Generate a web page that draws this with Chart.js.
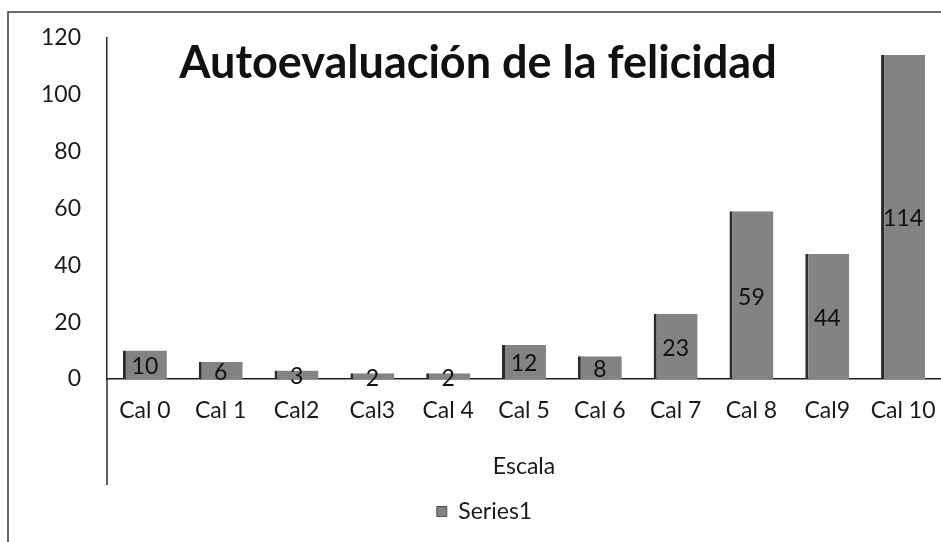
<!DOCTYPE html>
<html>
<head>
<meta charset="utf-8">
<script src="https://cdn.jsdelivr.net/npm/chart.js@4.4.1/dist/chart.umd.min.js"></script>
<style>
    html, body { margin: 0; padding: 0; background: #fff; }
    #wrap { width: 941px; height: 542px; position: relative; }
</style>
</head>
<body>
<div id="wrap"><canvas id="felicidadChart"></canvas></div>
<script>
// ==================== DATA ====================
const categories = ['Cal 0', 'Cal 1', 'Cal2', 'Cal3', 'Cal 4', 'Cal 5', 'Cal 6', 'Cal 7', 'Cal 8', 'Cal9', 'Cal 10'];
const series1 = [10, 6, 3, 2, 2, 12, 8, 23, 59, 44, 114];
const yTicks = [0, 20, 40, 60, 80, 100, 120];
const chartTitle = 'Autoevaluación de la felicidad';
const xTitle = 'Escala';
const seriesName = 'Series1';

const FONT = 'Lato, "Open Sans", sans-serif';
const INK = '#1a1a1a';

// Frame, title, in-bar value labels and axis stub below the zero line
const decorPlugin = {
    id: 'decor',
    beforeDraw(chart) {
        const c = chart.ctx;
        c.save();
        c.strokeStyle = '#3a3a3a';
        c.lineWidth = 1.5;
        c.beginPath();
        c.moveTo(8, 542);
        c.lineTo(8, 12);
        c.lineTo(941, 12);
        c.stroke();
        c.restore();
    },
    afterDraw(chart) {
        const c = chart.ctx;
        const area = chart.chartArea;
        c.save();

        // y axis line continues down through the category band
        c.strokeStyle = '#2a2a2a';
        c.lineWidth = 1.5;
        c.beginPath();
        c.moveTo(area.left, area.bottom);
        c.lineTo(area.left, area.bottom + 106);
        c.stroke();

        // chart title sits inside the plot area
        c.fillStyle = '#111';
        c.font = 'bold 45px ' + FONT;
        c.textAlign = 'center';
        c.textBaseline = 'alphabetic';
        c.fillText(chartTitle, 478, 78);

        // value labels centred on each bar
        const meta = chart.getDatasetMeta(0);
        c.font = '23px ' + FONT;
        c.fillStyle = '#111';
        c.textBaseline = 'middle';
        meta.data.forEach((bar, i) => {
            const mid = (bar.y + bar.base) / 2;
            c.fillText(String(series1[i]), bar.x, mid + 2);
        });
        c.restore();
    }
};

new Chart(document.getElementById('felicidadChart'), {
    type: 'bar',
    data: {
        labels: categories,
        datasets: [{
            label: seriesName,
            data: series1,
            backgroundColor: '#838383',
            borderColor: '#2b2b2b',
            borderWidth: { left: 3, right: 0, top: 0, bottom: 0 },
            borderSkipped: 'start',
            categoryPercentage: 1,
            barPercentage: 0.58
        }]
    },
    options: {
        responsive: true,
        maintainAspectRatio: false,
        animation: false,
        layout: { padding: { left: 28, right: 0, top: 38, bottom: 9 } },
        plugins: {
            legend: {
                position: 'bottom',
                labels: {
                    color: INK,
                    font: { family: FONT, size: 23 },
                    boxWidth: 10,
                    boxHeight: 10,
                    padding: 10
                }
            },
            tooltip: { enabled: false }
        },
        scales: {
            x: {
                grid: { display: false },
                border: { display: true, color: '#1e1e1e', width: 1.5 },
                ticks: { color: INK, font: { family: FONT, size: 23 }, padding: 10, maxRotation: 0, autoSkip: false },
                title: {
                    display: true,
                    text: xTitle,
                    color: INK,
                    font: { family: FONT, size: 23 },
                    padding: { top: 0, bottom: 10 }
                },
                afterFit: (scale) => {
                    scale.height = 111;
                    scale.paddingLeft = 0;
                    scale.paddingRight = 0;
                }
            },
            y: {
                min: 0,
                max: 120,
                grid: { display: false },
                border: { display: true, color: '#2a2a2a', width: 1.5 },
                afterBuildTicks: (scale) => { scale.ticks = yTicks.map(v => ({ value: v })); },
                ticks: { color: INK, font: { family: FONT, size: 23 }, padding: 18 },
                afterFit: (scale) => { scale.width = 79; }
            }
        }
    },
    plugins: [decorPlugin]
});
</script>
</body>
</html>
